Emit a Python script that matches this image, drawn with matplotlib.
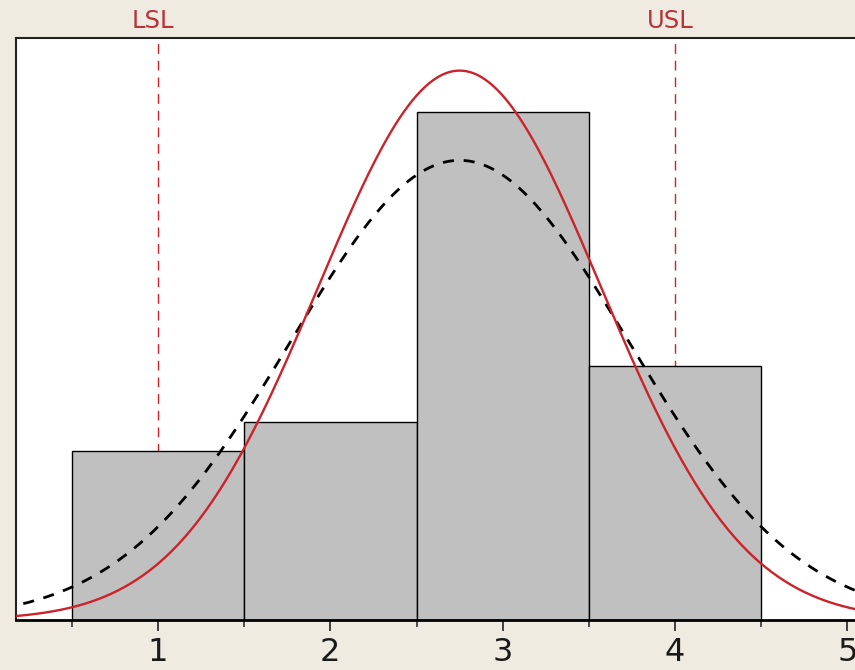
import numpy as np
import matplotlib.pyplot as plt

# Capability histogram data
bin_centers = [1, 2, 3, 4]
counts = [6, 7, 18, 9]
bin_width = 1.0
lsl, usl = 1, 4
mean = 2.75
sd_overall = 0.98
sd_within = 0.82
xticks = [1, 2, 3, 4, 5]
minor_ticks = [0.5, 1.5, 2.5, 3.5, 4.5]

def normal_curve(x, mu, sd, n):
    return n * bin_width * np.exp(-0.5 * ((x - mu) / sd) ** 2) / (sd * np.sqrt(2 * np.pi))

bg = "#F0EBE1"
red = "#CC2229"

fig = plt.figure(figsize=(8.55, 6.7), dpi=100, facecolor=bg)
ax = fig.add_axes([0.0187, 0.0746, 0.9925, 0.868])
ax.set_facecolor("white")

ax.bar(bin_centers, counts, width=bin_width, color="#C0C0C0",
       edgecolor="black", linewidth=1.0, zorder=2)

n = sum(counts)
xs = np.linspace(0.1, 5.2, 400)
ax.plot(xs, normal_curve(xs, mean, sd_overall, n), color="black",
        lw=2.0, linestyle=(0, (4, 3.5)), zorder=3)
ax.plot(xs, normal_curve(xs, mean, sd_within, n), color=red, lw=1.7, zorder=4)

for v, name in [(lsl, "LSL"), (usl, "USL")]:
    ax.axvline(v, color=red, lw=1.0, linestyle=(0, (7, 5)), zorder=1)
    ax.text(v - 0.03, 1.009, name, transform=ax.get_xaxis_transform(), ha="center",
            va="bottom", color="#B8323A", fontsize=17.5)

ax.set_xlim(0.1756, 5.1)
ax.set_ylim(0, 20.6)

ax.set_xticks(xticks)
ax.set_xticklabels([str(t) for t in xticks], fontsize=23, color="#1a1a1a")
ax.set_xticks(minor_ticks, minor=True)
ax.tick_params(axis="x", which="major", length=8, width=1.3, pad=4, color="#333333")
ax.tick_params(axis="x", which="minor", length=5, width=1.2, color="#333333")
ax.set_yticks([])

for s in ["top", "left"]:
    ax.spines[s].set_color("#222222")
    ax.spines[s].set_linewidth(1.5)
ax.spines["bottom"].set_linewidth(2.0)
ax.spines["right"].set_visible(False)

fig.savefig("out.png", dpi=100, facecolor=bg)
